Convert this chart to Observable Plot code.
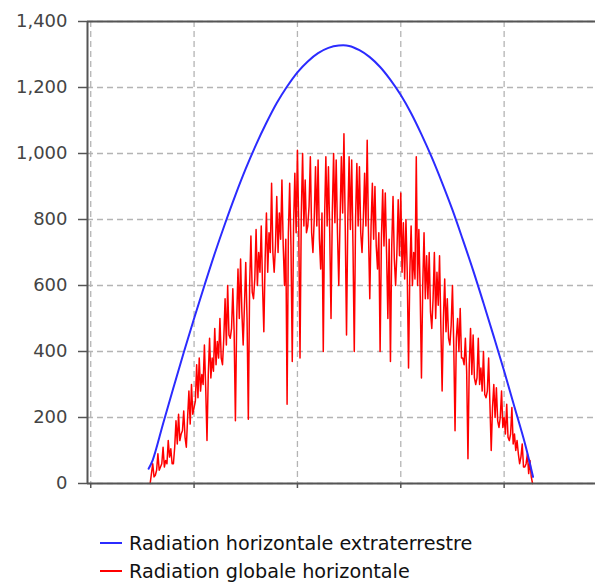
<!DOCTYPE html>
<html>
<head>
<meta charset="utf-8">
<script src="https://cdn.jsdelivr.net/npm/d3@7"></script>
<script src="https://cdn.jsdelivr.net/npm/@observablehq/plot@0.6"></script>
<style>
  html, body { margin: 0; padding: 0; background: #fff; }
  #wrap { position: relative; width: 595px; height: 583px; overflow: hidden; font-family: "DejaVu Sans", sans-serif; }
  .leg { position: absolute; left: 100px; height: 22px; display: flex; align-items: center; font-size: 19.2px; color: #111; white-space: nowrap; }
  .leg .sw { width: 22px; height: 2px; margin-right: 7px; }
</style>
</head>
<body>
<div id="wrap"></div>
<script>
// Y axis ticks
const yTicks = [0, 200, 400, 600, 800, 1000, 1200, 1400];
// X axis ticks (unlabelled)
const xTicks = [0, 5, 10, 15, 20];

// Blue series: extraterrestrial horizontal radiation
const blueTimes = [2.8, 3.0, 3.5, 4.0, 4.5, 5.0, 5.5, 6.0, 6.5, 7.0, 7.5, 8.0, 8.5, 9.0, 9.5, 10.0, 10.5, 11.0, 11.5, 12.0,
  12.5, 13.0, 13.5, 14.0, 14.5, 15.0, 15.5, 16.0, 16.5, 17.0, 17.5, 18.0, 18.5, 19.0, 19.5, 20.0, 20.5, 21.0, 21.4];
const blueValues = [45, 71, 181, 290, 397, 500, 600, 697, 788, 874, 954, 1027, 1093, 1153, 1203, 1246, 1279, 1304, 1320, 1327,
  1326, 1313, 1292, 1262, 1223, 1177, 1122, 1058, 988, 911, 829, 739, 646, 547, 445, 341, 232, 123, 20];

// Red series: global horizontal radiation (time steps of 0.0625 starting at 2.875)
const redStart = 2.875;
const redStep = 0.0625;
const redValues = [
  0, 30, 60, 20, 25, 40, 90, 40, 50, 60,
  110, 50, 70, 60, 130, 80, 105, 60, 60, 110,
  190, 120, 210, 130, 150, 160, 220, 140, 110, 200,
  280, 180, 300, 210, 230, 250, 360, 260, 380, 280,
  330, 300, 420, 290, 130, 330, 440, 320, 380, 340,
  470, 360, 430, 380, 500, 380, 360, 440, 560, 420,
  600, 450, 440, 470, 590, 460, 190, 500, 650, 500,
  680, 520, 420, 540, 670, 500, 195, 600, 750, 580,
  560, 620, 770, 600, 700, 640, 780, 600, 460, 680,
  820, 640, 760, 700, 910, 700, 640, 720, 870, 700,
  820, 740, 920, 720, 600, 740, 240, 760, 910, 720,
  370, 780, 940, 760, 1010, 780, 380, 820, 1000, 780,
  920, 760, 780, 840, 990, 760, 700, 800, 960, 780,
  980, 740, 650, 820, 400, 800, 990, 780, 960, 760,
  500, 820, 1000, 790, 980, 760, 600, 800, 990, 820,
  1060, 780, 450, 800, 990, 770, 980, 720, 400, 800,
  970, 780, 960, 760, 700, 800, 940, 780, 1040, 760,
  560, 780, 910, 740, 900, 720, 650, 760, 400, 740,
  890, 720, 880, 700, 500, 740, 370, 720, 870, 680,
  600, 700, 860, 690, 880, 640, 790, 620, 800, 640,
  350, 640, 780, 600, 700, 620, 990, 600, 770, 580,
  320, 600, 760, 560, 690, 560, 700, 520, 470, 560,
  700, 500, 640, 540, 690, 480, 280, 500, 620, 460,
  560, 440, 420, 480, 600, 420, 160, 440, 500, 400,
  530, 380, 380, 360, 440, 340, 75, 360, 470, 330,
  450, 320, 300, 320, 440, 300, 350, 280, 400, 270,
  260, 280, 380, 240, 100, 230, 300, 200, 290, 190,
  170, 200, 280, 170, 200, 150, 240, 140, 130, 150,
  230, 120, 150, 100, 130, 90, 60, 80, 120, 50,
  50, 60, 90, 30, 70, 20, 0
];

const seriesNames = ["Radiation horizontale extraterrestre", "Radiation globale horizontale"];
const seriesColors = ["#2b2bff", "#ff0000"];

const blue = blueTimes.map((t, i) => ({t, v: blueValues[i]}));
const red = redValues.map((v, i) => ({t: redStart + i * redStep, v}));

const xDomain = [-0.156, 24.42];
const axisColor = "#555";
const gridColor = "#b4b4b4";

const chart = Plot.plot({
  width: 595,
  height: 500,
  marginTop: 21,
  marginBottom: 17,
  marginLeft: 87,
  marginRight: 0,
  style: {fontFamily: "DejaVu Sans", fontSize: "18px", color: "#444", background: "#fff"},
  x: {domain: xDomain},
  y: {domain: [0, 1400]},
  marks: [
    Plot.gridY(yTicks, {stroke: gridColor, strokeOpacity: 1, strokeDasharray: "6,4", strokeWidth: 1.3}),
    Plot.gridX(xTicks, {stroke: gridColor, strokeOpacity: 1, strokeDasharray: "6,4", strokeWidth: 1.3}),
    Plot.line(red, {x: "t", y: "v", stroke: seriesColors[1], strokeWidth: 1.5}),
    Plot.line(blue, {x: "t", y: "v", stroke: seriesColors[0], strokeWidth: 2, curve: "catmull-rom"}),
    Plot.ruleY([1400], {stroke: axisColor, strokeWidth: 2}),
    Plot.ruleY([0], {stroke: axisColor, strokeWidth: 2}),
    Plot.ruleX([xDomain[0]], {stroke: axisColor, strokeWidth: 2}),
    Plot.axisY(yTicks, {tickSize: 9, tickPadding: 11, tickFormat: d3.format(","), stroke: axisColor, strokeWidth: 1.5, fill: "#444", label: null}),
    Plot.axisX(xTicks, {tickSize: 5, tickFormat: () => "", stroke: axisColor, strokeWidth: 1.5, label: null})
  ]
});

const wrap = document.getElementById("wrap");
wrap.appendChild(chart);

seriesNames.forEach((name, i) => {
  const item = document.createElement("div");
  item.className = "leg";
  item.style.top = (532 + i * 28) + "px";
  const sw = document.createElement("span");
  sw.className = "sw";
  sw.style.background = seriesColors[i];
  const tx = document.createElement("span");
  tx.textContent = name;
  item.appendChild(sw);
  item.appendChild(tx);
  wrap.appendChild(item);
});
</script>
</body>
</html>
